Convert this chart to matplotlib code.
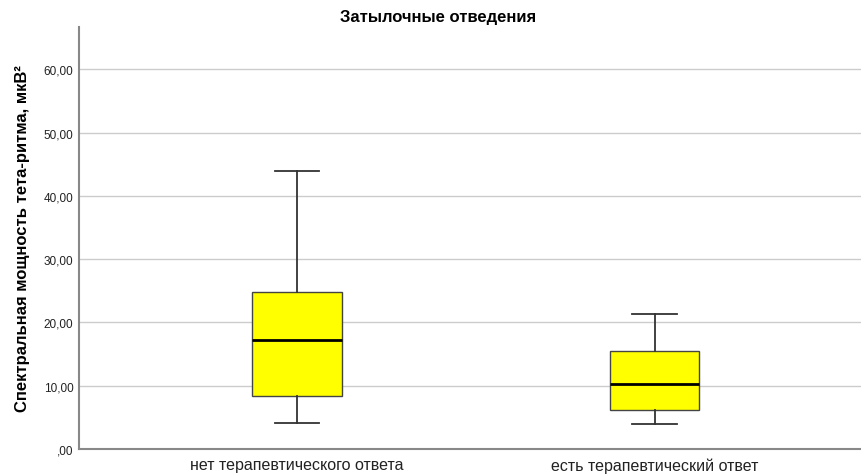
import matplotlib
matplotlib.use("Agg")
import matplotlib.pyplot as plt
from matplotlib.ticker import FuncFormatter

plt.rcParams['font.family'] = ['Liberation Sans', 'DejaVu Sans']

categories = ["нет терапевтического ответа", "есть терапевтический ответ"]
whisker_low = [4.05, 3.9]
q1 = [8.4, 6.15]
median = [17.2, 10.3]
q3 = [24.85, 15.5]
whisker_high = [43.9, 21.4]

stats = []
for i, name in enumerate(categories):
    stats.append({
        "label": name,
        "whislo": whisker_low[i],
        "q1": q1[i],
        "med": median[i],
        "q3": q3[i],
        "whishi": whisker_high[i],
        "fliers": [],
    })

fig = plt.figure(figsize=(8.62, 4.77), dpi=100)
ax = fig.add_axes([79 / 862, 27 / 477, 1 - 79 / 862, (450 - 28) / 477])

ax.bxp(stats, positions=[0, 1], widths=0.25, patch_artist=True, showfliers=False,
       boxprops=dict(facecolor="#ffff00", edgecolor="#444444", linewidth=1.0),
       whiskerprops=dict(color="#333333", linewidth=1.3),
       capprops=dict(color="#333333", linewidth=1.3),
       medianprops=dict(color="black", linewidth=2.0),
       zorder=3)

ax.set_xlim(-0.61, 1.58)
ax.set_ylim(0, 66.7)
ax.set_yticks([0, 10, 20, 30, 40, 50, 60])
ax.yaxis.set_major_formatter(FuncFormatter(
    lambda v, p: ",00" if v == 0 else f"{v:.2f}".replace(".", ",")))
ax.grid(axis="y", color="#cccccc", linewidth=1.0, zorder=0)
ax.set_axisbelow(True)

for side in ["top", "right"]:
    ax.spines[side].set_visible(False)
for side in ["left", "bottom"]:
    ax.spines[side].set_color("#888888")
    ax.spines[side].set_linewidth(1.5)

ax.tick_params(axis="both", length=0, colors="#222222")
ax.tick_params(axis="x", labelsize=11.5, pad=6)
ax.tick_params(axis="y", labelsize=8.5, pad=4)

ax.set_ylabel("Спектральная мощность тета-ритма, мкВ²", fontsize=12,
              fontweight="bold", labelpad=10)
# SPSS centres the title on the whole chart, not the plot area
ax.set_title("Затылочные отведения", fontsize=12, fontweight="bold", pad=4,
             x=0.4585)

fig.savefig("out.png", dpi=100)
